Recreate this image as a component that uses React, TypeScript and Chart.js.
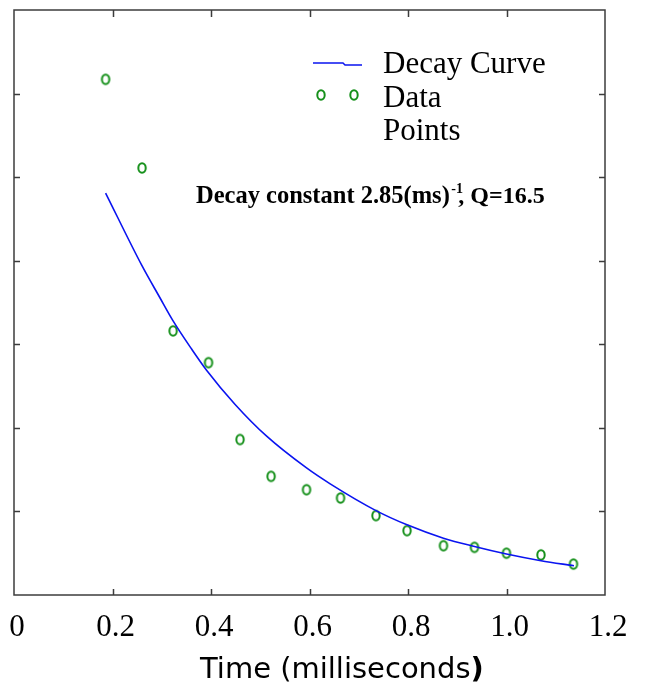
import React, { useEffect, useRef } from "react";
import { Chart, registerables } from "chart.js";

Chart.register(...registerables);

// ---- data ----
const xTickValues = [0, 0.2, 0.4, 0.6, 0.8, 1.0, 1.2];
const xTickLabels = ["0", "0.2", "0.4", "0.6", "0.8", "1.0", "1.2"];
const yTickValues = [1, 2, 3, 4, 5, 6];

const curveX = [0.186, 0.259, 0.296, 0.323, 0.361, 0.391, 0.449, 0.513, 0.594, 0.642, 0.735, 0.798, 0.872, 0.935, 1.0, 1.07, 1.137];
const curveY = [4.81, 3.95, 3.56, 3.28, 2.94, 2.69, 2.28, 1.9, 1.52, 1.33, 1.01, 0.84, 0.68, 0.58, 0.49, 0.41, 0.35];

const dataX = [0.186, 0.26, 0.323, 0.395, 0.459, 0.522, 0.594, 0.663, 0.735, 0.798, 0.872, 0.935, 1.0, 1.07, 1.136];
const dataY = [6.17, 5.11, 3.16, 2.78, 1.86, 1.42, 1.26, 1.16, 0.95, 0.77, 0.59, 0.57, 0.5, 0.48, 0.37];

const legendCurveLabel = "Decay Curve";
const legendDataLabel = ["Data", "Points"];
const noteMain = "Decay constant 2.85(ms)";
const noteSup = "-1";
const noteTail = ", Q=16.5";
const axisTitleMain = "Time (milliseconds";
const axisTitleEnd = ")";

const BLUE = "#0a14f0";
const GREEN = "#15901a";
const FRAME = "#3c3c3c";

function makeMarker(): HTMLCanvasElement {
  const c = document.createElement("canvas");
  c.width = 12;
  c.height = 14;
  const g = c.getContext("2d")!;
  g.strokeStyle = GREEN;
  g.lineWidth = 2;
  g.beginPath();
  g.ellipse(6, 7, 3.7, 4.8, 0, 0, Math.PI * 2);
  g.stroke();
  return c;
}

export default function App() {
  const ref = useRef<HTMLCanvasElement | null>(null);

  useEffect(() => {
    if (!ref.current) return;
    const marker = makeMarker();

    const framePlugin = {
      id: "frame",
      afterDraw(chart: any) {
        const { ctx, chartArea: a, scales } = chart;
        const xs = scales.x;
        const ys = scales.y;
        ctx.save();
        // frame
        ctx.strokeStyle = FRAME;
        ctx.lineWidth = 1.5;
        ctx.strokeRect(a.left, a.top, a.right - a.left, a.bottom - a.top);
        // inward ticks
        ctx.beginPath();
        xTickValues.slice(1, -1).forEach((v) => {
          const px = Math.round(xs.getPixelForValue(v)) + 0.5;
          ctx.moveTo(px, a.bottom);
          ctx.lineTo(px, a.bottom - 6);
          ctx.moveTo(px, a.top);
          ctx.lineTo(px, a.top + 7);
        });
        yTickValues.forEach((v) => {
          const py = Math.round(ys.getPixelForValue(v)) + 0.5;
          ctx.moveTo(a.left, py);
          ctx.lineTo(a.left + 6, py);
          ctx.moveTo(a.right, py);
          ctx.lineTo(a.right - 6, py);
        });
        ctx.stroke();

        // legend
        ctx.strokeStyle = BLUE;
        ctx.lineWidth = 1.5;
        ctx.beginPath();
        ctx.moveTo(313, 63);
        ctx.lineTo(343, 63);
        ctx.lineTo(345, 65);
        ctx.lineTo(362, 65);
        ctx.stroke();
        ctx.drawImage(marker, 321 - 6, 95 - 7);
        ctx.drawImage(marker, 354 - 6, 95 - 7);
        ctx.fillStyle = "#000";
        ctx.textAlign = "left";
        ctx.textBaseline = "alphabetic";
        ctx.font = '31px "Liberation Serif"';
        ctx.fillText(legendCurveLabel, 383, 73);
        ctx.fillText(legendDataLabel[0], 383, 107);
        ctx.fillText(legendDataLabel[1], 383, 140);

        // annotation
        let x = 196;
        ctx.font = 'bold 24.5px "Liberation Serif"';
        ctx.fillText(noteMain, x, 203);
        x += ctx.measureText(noteMain).width + 1.5;
        ctx.font = 'bold 14px "Liberation Serif"';
        ctx.fillText(noteSup, x, 193);
        x += 7;
        ctx.font = 'bold 24px "Liberation Serif"';
        ctx.fillText(noteTail, x, 203);

        // axis title
        let tx = 200;
        ctx.font = '29px "DejaVu Sans"';
        ctx.fillText(axisTitleMain, tx, 678);
        tx += ctx.measureText(axisTitleMain).width;
        ctx.font = 'bold 29px "DejaVu Sans"';
        ctx.fillText(axisTitleEnd, tx, 678);
        ctx.restore();
      },
    };

    const chart = new Chart(ref.current, {
      type: "scatter",
      data: {
        datasets: [
          {
            label: legendCurveLabel,
            data: curveX.map((x, i) => ({ x, y: curveY[i] })),
            showLine: true,
            borderColor: BLUE,
            borderWidth: 1.6,
            pointRadius: 0,
            cubicInterpolationMode: "monotone",
            fill: false,
          },
          {
            label: legendDataLabel.join(" "),
            data: dataX.map((x, i) => ({ x, y: dataY[i] })),
            showLine: false,
            pointStyle: marker as any,
            pointRadius: 6,
            borderColor: GREEN,
            backgroundColor: "transparent",
          },
        ],
      },
      options: {
        responsive: false,
        animation: false,
        devicePixelRatio: 1,
        layout: { padding: { left: 14, right: 40, top: 10, bottom: 0 } },
        plugins: {
          legend: { display: false },
          tooltip: { enabled: false },
        },
        scales: {
          x: {
            type: "linear",
            min: 0,
            max: 1.2,
            afterBuildTicks: (s: any) => {
              s.ticks = xTickValues.map((v) => ({ value: v }));
            },
            afterFit: (s: any) => {
              s.height = 94;
              s.paddingLeft = 0;
              s.paddingRight = 0;
            },
            grid: { display: false, drawTicks: false },
            border: { display: false },
            ticks: {
              autoSkip: false,
              maxRotation: 0,
              padding: 14,
              labelOffset: 3,
              color: "#000",
              font: { family: "Liberation Serif", size: 31 },
              callback: (_v: any, i: number) => xTickLabels[i],
            },
          },
          y: {
            type: "linear",
            min: 0,
            max: 7,
            display: false,
          },
        },
      },
      plugins: [framePlugin],
    });
    return () => chart.destroy();
  }, []);

  return (
    <div style={{ position: "absolute", left: 0, top: 0, width: 645, height: 689, background: "#fff" }}>
      <canvas ref={ref} width={645} height={689} style={{ display: "block" }} />
    </div>
  );
}
